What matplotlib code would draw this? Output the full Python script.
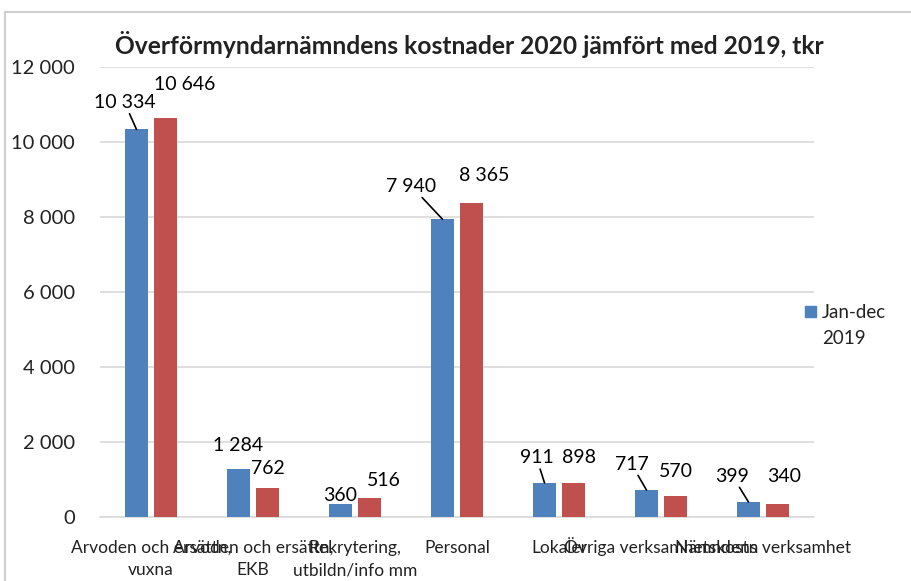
import matplotlib
matplotlib.use("Agg")
import matplotlib.pyplot as plt
import numpy as np
from matplotlib.ticker import FuncFormatter
from matplotlib.lines import Line2D
from matplotlib.patches import Rectangle

plt.rcParams['font.family'] = ['Lato', 'DejaVu Sans']

categories = ["Arvoden och ersättn,\nvuxna", "Arvoden och ersättn,\nEKB",
              "Rekrytering,\nutbildn/info mm", "Personal", "Lokaler",
              "Övriga verksamhetskostn", "Nämndens verksamhet"]
values_2019 = [10334, 1284, 360, 7940, 911, 717, 399]
values_2020 = [10646, 762, 516, 8365, 898, 570, 340]
series_names = ["Jan-dec\n2019", "Jan-dec\n2020"]
title = "Överförmyndarnämndens kostnader 2020 jämfört med 2019, tkr"

# label offsets in pixels (dx, dy) relative to bar top, and leader line flag
blue_offsets = [(-12, 27, True), (0, 23, False), (0, 8, False), (-31, 33, True),
                (-8, 25, True), (-15, 26, True), (-16, 26, True)]
red_offsets = [(19, 33), (0, 20), (14, 17), (13, 28), (6, 26), (0, 24), (7, 28)]

BLUE = "#4F81BD"
RED = "#C0504D"
TXT = "#222222"

W, H = 912, 581
fig = plt.figure(figsize=(W / 100, H / 100), dpi=100)
ax = fig.add_axes([100 / W, 1 - 517 / H, 714 / W, 450 / H])

x = np.arange(len(categories))
bw = 0.225
off = 0.142
b1 = ax.bar(x - off, values_2019, bw, color=BLUE, zorder=3)
b2 = ax.bar(x + off, values_2020, bw, color=RED, zorder=3)

ax.set_xlim(-0.5, len(categories) - 0.5)
ax.set_ylim(0, 12000)
ax.set_yticks(np.arange(0, 12001, 2000))
ax.yaxis.set_major_formatter(FuncFormatter(lambda v, p: f"{int(v):,}".replace(",", " ")))
ax.grid(axis='y', color='#D9D9D9', lw=1.2, zorder=0)
for s in ['left', 'right', 'top']:
    ax.spines[s].set_visible(False)
ax.spines['bottom'].set_color('#D9D9D9')
ax.spines['bottom'].set_linewidth(1.2)
ax.tick_params(axis='y', length=0, pad=18, labelsize=14.5, labelcolor=TXT)
ax.set_xticks(x)
ax.tick_params(axis='x', length=0, labelbottom=False)

k = 0.72  # px -> points at 100 dpi

# category labels, line by line on a common baseline
for xi, lab in zip(x, categories):
    for j, line in enumerate(lab.split("\n")):
        ax.annotate(line, xy=(xi, 0), xycoords=('data', 'axes fraction'),
                    xytext=(0, -(36 + 22 * j) * k), textcoords='offset points',
                    ha='center', va='baseline', fontsize=12.5, color=TXT,
                    annotation_clip=False)

def fmt(v):
    return f"{v:,}".replace(",", " ")

for i, v in enumerate(values_2019):
    dx, dy, leader = blue_offsets[i]
    ap = dict(arrowstyle='-', color='black', lw=1.2, shrinkA=0, shrinkB=0) if leader else None
    ax.annotate(fmt(v), xy=(x[i] - off, v), xytext=(dx * k, dy * k),
                textcoords='offset points', ha='center', va='center',
                fontsize=14, color='black', arrowprops=ap, zorder=5)
for i, v in enumerate(values_2020):
    dx, dy = red_offsets[i]
    ax.annotate(fmt(v), xy=(x[i] + off, v), xytext=(dx * k, dy * k),
                textcoords='offset points', ha='center', va='center',
                fontsize=14, color='black', zorder=5)

fig.text(469 / W, 1 - 45 / H, title, ha='center', va='center',
         fontsize=17.7, fontweight='bold', color=TXT)

# legend (only the visible first series)
fig.add_artist(Rectangle((805 / W, 1 - 317 / H), 11 / W, 11 / H, color=BLUE,
                         transform=fig.transFigure))
for j, line in enumerate(series_names[0].split("\n")):
    fig.text(822 / W, 1 - (318 + 26 * j) / H, line, ha='left', va='baseline',
             fontsize=13.5, color=TXT)

# chart frame
fig.add_artist(Line2D([5 / W, 1], [1 - 12 / H, 1 - 12 / H], color='#D0D0D0', lw=1.5,
                      transform=fig.transFigure))
fig.add_artist(Line2D([5 / W, 5 / W], [0, 1 - 12 / H], color='#D0D0D0', lw=1.5,
                      transform=fig.transFigure))

fig.savefig("out.png", dpi=100)
